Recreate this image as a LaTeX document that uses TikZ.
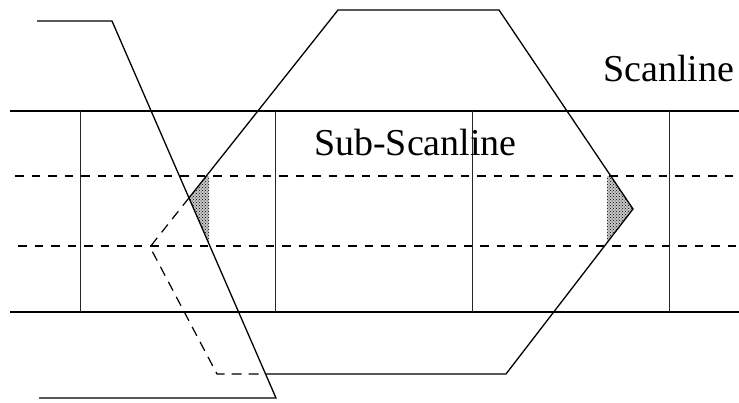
\documentclass[tikz,border=0pt]{standalone}
\usepackage{fontspec}
\setmainfont{Liberation Serif}
\usetikzlibrary{patterns}
\begin{document}
\begin{tikzpicture}[x=1pt,y=-1pt,
  edge/.style={line width=1.3pt,line join=miter},
  hidden/.style={line width=1.2pt,dash pattern=on 10pt off 7pt},
  scan/.style={line width=1.2pt},
  subscan/.style={line width=1.3pt,dash pattern=on 8.5pt off 8pt},
  grid/.style={line width=0.8pt,black!85},
  shade/.style={fill=black!22,postaction={pattern=crosshatch dots,pattern color=black}},
  lbl/.style={inner sep=0pt,anchor=base west,font=\fontsize{38}{40}\selectfont}]
\useasboundingbox (0,0) rectangle (739,402);
% hexagon vertices
\coordinate (h1) at (338,10);
\coordinate (h2) at (499,10);
\coordinate (h3) at (633,209);
\coordinate (h4) at (506,374);
\coordinate (h5) at (217,374);
\coordinate (h6) at (150,247);
% crossing edge
\coordinate (c0) at (37,21);
\coordinate (c1) at (112,21);
\coordinate (c2) at (276,398);
\coordinate (c3) at (39,398);
\coordinate (p1) at (intersection of h1--h6 and c1--c2);
\coordinate (p2) at (intersection of h4--h5 and c1--c2);
% shaded coverage
\path[shade] (p1) -- (206.4,176) -- (209,176) -- (209,244) -- cycle;
\path[shade] (607,176) -- (610.7,176) -- (h3) -- (607,242.6) -- cycle;
% scanline
\coordinate (s1l) at (10,111); \coordinate (s1r) at (739,111);
\coordinate (s2l) at (10,312); \coordinate (s2r) at (739,312);
\draw[scan] (s1l) -- (s1r);
\draw[scan] (s2l) -- (s2r);
% sub-scanlines
\coordinate (d1l) at (15,176); \coordinate (d1r) at (739,176);
\coordinate (d2l) at (18,246); \coordinate (d2r) at (739,246);
\draw[subscan] (d1l) -- (d1r);
\draw[subscan] (d2l) -- (d2r);
% pixel boundaries
\foreach \x/\n in {80.5/v1,275.5/v2,472.5/v3,669/v4}{
  \coordinate (\n t) at (\x,111); \coordinate (\n b) at (\x,312);
  \draw[grid] (\n t) -- (\n b);}
% polygon
\draw[edge] (p1) -- (h1) -- (h2) -- (h3) -- (h4) -- (p2);
\draw[hidden] (p1) -- (h6) -- (h5) -- (p2);
\draw[edge] (c0) -- (c1) -- (c2) -- (c3);
% labels
\node[lbl] (sub) at (314,155) {Sub-Scanline};
\node[lbl] (scl) at (603,81) {Scanline};
\end{tikzpicture}
\end{document}
